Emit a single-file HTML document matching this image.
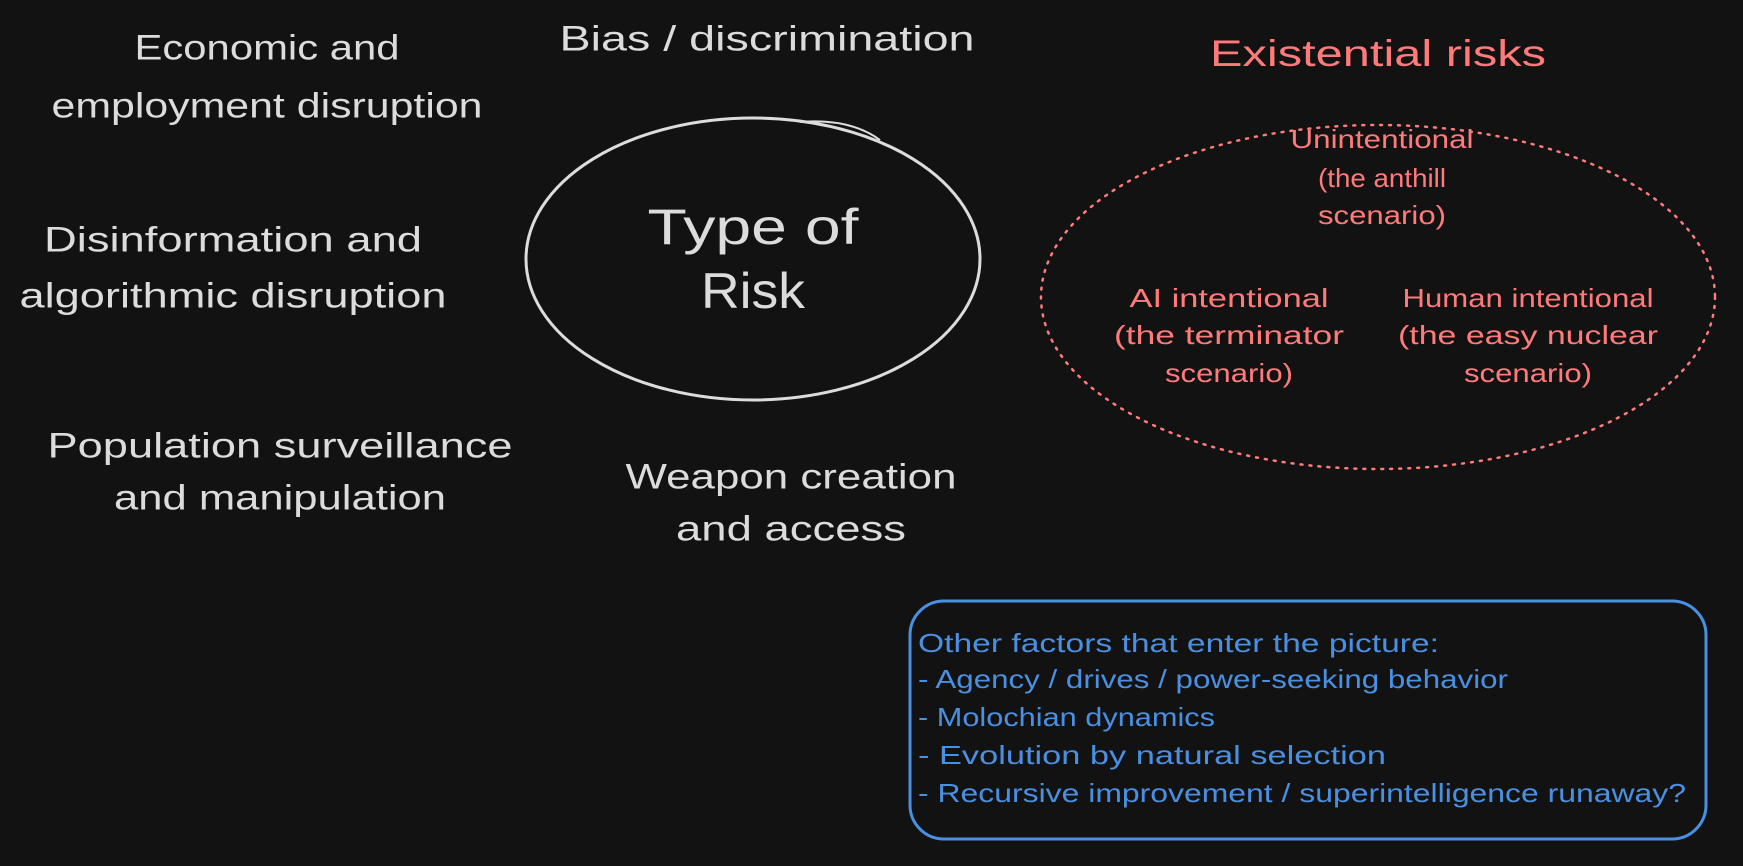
<!DOCTYPE html>
<html><head><meta charset="utf-8"><style>
html,body{margin:0;padding:0;background:#121212;}
svg{display:block;}
text{font-family:"Liberation Sans",sans-serif;}
</style></head><body>
<svg width="1743" height="866" viewBox="0 0 1743 866" xmlns="http://www.w3.org/2000/svg">
<rect width="1743" height="866" fill="#121212"/>
<g fill="#dcdcdc" font-size="35" text-anchor="middle" dominant-baseline="middle" lengthAdjust="spacingAndGlyphs">
<text x="267" y="50" textLength="265" lengthAdjust="spacingAndGlyphs">Economic and</text>
<text x="267" y="108" textLength="431" lengthAdjust="spacingAndGlyphs">employment disruption</text>
<text x="767" y="41" textLength="415" lengthAdjust="spacingAndGlyphs">Bias / discrimination</text>
<text x="233" y="242" textLength="378" lengthAdjust="spacingAndGlyphs">Disinformation and</text>
<text x="233" y="298" textLength="427" lengthAdjust="spacingAndGlyphs">algorithmic disruption</text>
<text x="280" y="448" textLength="465" lengthAdjust="spacingAndGlyphs">Population surveillance</text>
<text x="280" y="500" textLength="332" lengthAdjust="spacingAndGlyphs">and manipulation</text>
<text x="791" y="479" textLength="331" lengthAdjust="spacingAndGlyphs">Weapon creation</text>
<text x="791" y="531" textLength="230" lengthAdjust="spacingAndGlyphs">and access</text>
<text x="753" y="231" font-size="50" textLength="211" lengthAdjust="spacingAndGlyphs">Type of</text>
<text x="753" y="295" font-size="50" textLength="104" lengthAdjust="spacingAndGlyphs">Risk</text>
</g>
<ellipse cx="753" cy="259" rx="227" ry="141" fill="none" stroke="#dcdcdc" stroke-width="3"/>
<path d="M800 122 Q850 118 880 140" fill="none" stroke="#dcdcdc" stroke-width="2"/>
<g fill="#ff7b7b" text-anchor="middle" dominant-baseline="middle" font-size="26">
<text x="1378" y="56" font-size="37" textLength="336" lengthAdjust="spacingAndGlyphs">Existential risks</text>
<text x="1382" y="141" textLength="183" lengthAdjust="spacingAndGlyphs">Unintentional</text>
<text x="1382" y="180" textLength="128" lengthAdjust="spacingAndGlyphs">(the anthill</text>
<text x="1382" y="217" textLength="128" lengthAdjust="spacingAndGlyphs">scenario)</text>
<text x="1229" y="300" textLength="199" lengthAdjust="spacingAndGlyphs">AI intentional</text>
<text x="1229" y="337" textLength="230" lengthAdjust="spacingAndGlyphs">(the terminator</text>
<text x="1229" y="375" textLength="128" lengthAdjust="spacingAndGlyphs">scenario)</text>
<text x="1528" y="300" textLength="251" lengthAdjust="spacingAndGlyphs">Human intentional</text>
<text x="1528" y="337" textLength="260" lengthAdjust="spacingAndGlyphs">(the easy nuclear</text>
<text x="1528" y="375" textLength="128" lengthAdjust="spacingAndGlyphs">scenario)</text>
</g>
<ellipse cx="1378" cy="297" rx="337" ry="172" fill="none" stroke="#ff7b7b" stroke-width="2.5" stroke-dasharray="2 7" stroke-linecap="round"/>
<rect x="910" y="601" width="796" height="238" rx="34" fill="none" stroke="#4a90e2" stroke-width="3"/>
<g fill="#4a90e2" font-size="26" dominant-baseline="middle">
<text x="918" y="645" textLength="521" lengthAdjust="spacingAndGlyphs">Other factors that enter the picture:</text>
<text x="918" y="681" textLength="590" lengthAdjust="spacingAndGlyphs">- Agency / drives / power-seeking behavior</text>
<text x="918" y="719" textLength="297" lengthAdjust="spacingAndGlyphs">- Molochian dynamics</text>
<text x="918" y="757" textLength="468" lengthAdjust="spacingAndGlyphs">- Evolution by natural selection</text>
<text x="918" y="795" textLength="768" lengthAdjust="spacingAndGlyphs">- Recursive improvement / superintelligence runaway?</text>
</g>
</svg>
</body></html>
